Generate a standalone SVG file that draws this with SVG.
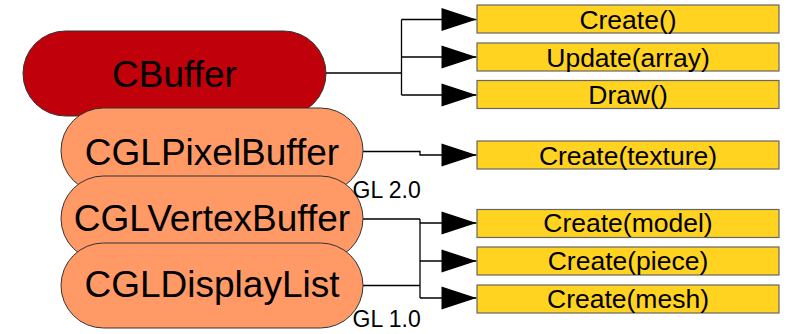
<svg xmlns="http://www.w3.org/2000/svg" width="787" height="334" viewBox="0 0 787 334">
<style>
.node{stroke:#333;stroke-width:1}
.red{fill:#c0000a}
.orange{fill:#ff9966}
.ntext{font-family:"Liberation Sans",Arial,sans-serif;font-size:37px;fill:#000;text-anchor:middle}
.box rect{fill:#ffd320;stroke:#666;stroke-width:1.2}
.box text{font-family:"Liberation Sans",Arial,sans-serif;font-size:26.5px;fill:#000;text-anchor:middle}
.conn path{fill:none;stroke:#000;stroke-width:1.3;marker-end:url(#arr)}
.conn path.plain{marker-end:none}
.lbl{font-family:"Liberation Sans",Arial,sans-serif;font-size:23px;fill:#000}
</style>
<defs>
<marker id="arr" markerUnits="userSpaceOnUse" markerWidth="36" markerHeight="24" refX="35" refY="11.5" orient="auto" overflow="visible">
<path d="M0,0 L35,11.5 L0,23 Z" fill="#000"/>
</marker>
</defs>
<rect width="787" height="334" fill="#fff"/>
<g id="connectors" class="conn">
<path class="plain" d="M326 73 H401.5 M401.5 19.5 V95"/>
<path d="M401.5 19.5 H476.5"/>
<path d="M401.5 57 H476.5"/>
<path d="M401.5 95 H476.5"/>
<path d="M363 151.5 H420 V155 H476.5"/>
<path class="plain" d="M363 219 H420 M363 285.5 H420 M420 219 V298"/>
<path d="M420 223 H476.5"/>
<path d="M420 261 H476.5"/>
<path d="M420 298 H476.5"/>
</g>
<g id="CBuffer">
<rect class="node red" x="23" y="31" width="303" height="85" rx="42.5" ry="42.5"/>
<text class="ntext" x="174.5" y="87">CBuffer</text>
</g>
<g id="CGLPixelBuffer">
<rect class="node orange" x="61" y="108" width="302" height="85" rx="42.5" ry="42.5"/>
<text class="ntext" x="212" y="165">CGLPixelBuffer</text>
</g>
<g id="CGLVertexBuffer">
<rect class="node orange" x="61" y="176" width="302" height="85" rx="42.5" ry="42.5"/>
<text class="ntext" x="212" y="231">CGLVertexBuffer</text>
</g>
<g id="CGLDisplayList">
<rect class="node orange" x="61" y="243" width="302" height="85" rx="42.5" ry="42.5"/>
<text class="ntext" x="212" y="297">CGLDisplayList</text>
</g>
<text class="lbl" x="352.5" y="198">GL 2.0</text>
<text class="lbl" x="352.5" y="326.5">GL 1.0</text>
<g id="create" class="box">
<rect x="477" y="5" width="302" height="28"/>
<text x="628" y="28.5">Create()</text>
</g>
<g id="update" class="box">
<rect x="477" y="43" width="302" height="28"/>
<text x="628" y="66.5">Update(array)</text>
</g>
<g id="draw" class="box">
<rect x="477" y="80.5" width="302" height="28"/>
<text x="628" y="104">Draw()</text>
</g>
<g id="create-texture" class="box">
<rect x="477" y="141" width="302" height="28"/>
<text x="628" y="164.5">Create(texture)</text>
</g>
<g id="create-model" class="box">
<rect x="477" y="209.5" width="302" height="28"/>
<text x="628" y="232">Create(model)</text>
</g>
<g id="create-piece" class="box">
<rect x="477" y="247" width="302" height="28"/>
<text x="628" y="270">Create(piece)</text>
</g>
<g id="create-mesh" class="box">
<rect x="477" y="285" width="302" height="28"/>
<text x="628" y="308">Create(mesh)</text>
</g>
</svg>
